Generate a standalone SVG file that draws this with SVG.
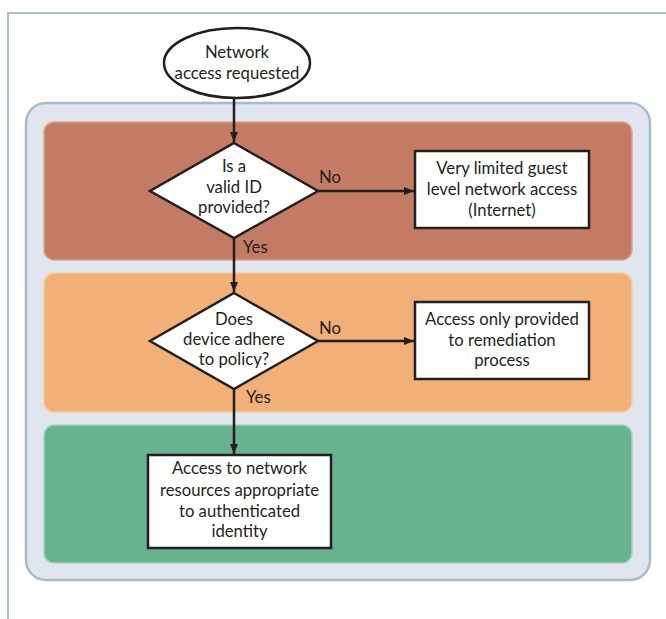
<svg xmlns="http://www.w3.org/2000/svg" width="666" height="619" viewBox="0 0 666 619">
<defs>
<marker id="ah" viewBox="0 0 10 10" refX="10" refY="5" markerWidth="4" markerHeight="4" orient="auto" markerUnits="strokeWidth">
<path d="M0,1 L10,5 L0,9 Z" fill="#231f20"/>
</marker>
</defs>
<style>
.t{font-family:Lato,"Open Sans","Liberation Sans",sans-serif;font-size:16.7px;fill:#231f20;text-anchor:middle}
.lbl{font-family:Lato,"Open Sans","Liberation Sans",sans-serif;font-size:16.7px;fill:#231f20}
.shape{fill:#ffffff;stroke:#231f20;stroke-width:2.5}
.conn{fill:none;stroke:#231f20;stroke-width:2.5}
.band{stroke-width:1.5}
</style>
<rect width="666" height="619" fill="#ffffff"/>
<g id="frame">
<path d="M8,619 L8,13 L666,13" fill="none" stroke="#a8bfcf" stroke-width="2"/>
</g>
<g id="panel">
<rect x="26" y="103" width="624" height="477" rx="20" fill="#e1e6ee" stroke="#a6bccd" stroke-width="2.5"/>
<rect class="band" x="44" y="122" width="588" height="138" rx="10" fill="#c47b64" stroke="#dda190"/>
<rect class="band" x="44" y="273" width="588" height="139" rx="10" fill="#f0b077" stroke="#f5cd9f"/>
<rect class="band" x="44" y="425" width="588" height="138" rx="10" fill="#68b291" stroke="#a6d3bd"/>
</g>
<g id="connectors">
<line class="conn" x1="234" y1="98" x2="234" y2="142" marker-end="url(#ah)"/>
<line class="conn" x1="318" y1="191" x2="414" y2="191" marker-end="url(#ah)"/>
<line class="conn" x1="234" y1="238" x2="234" y2="292" marker-end="url(#ah)"/>
<line class="conn" x1="318" y1="341" x2="414" y2="341" marker-end="url(#ah)"/>
<line class="conn" x1="234" y1="389" x2="234" y2="454" marker-end="url(#ah)"/>
<text class="lbl" x="319" y="183">No</text>
<text class="lbl" x="243" y="253">Yes</text>
<text class="lbl" x="319" y="334">No</text>
<text class="lbl" x="246" y="403">Yes</text>
</g>
<g id="start">
<ellipse class="shape" cx="237" cy="63" rx="73" ry="35"/>
<text class="t" x="237" y="58">Network</text>
<text class="t" x="237" y="79">access requested</text>
</g>
<g id="decision1">
<polygon class="shape" points="234,143 318,191 234,238 150,191"/>
<text class="t" x="234" y="172">Is a</text>
<text class="t" x="234" y="193">valid ID</text>
<text class="t" x="234" y="213">provided?</text>
</g>
<g id="guest">
<rect class="shape" x="415" y="151" width="174" height="77"/>
<text class="t" x="502" y="174">Very limited guest</text>
<text class="t" x="502" y="195">level network access</text>
<text class="t" x="502" y="216">(Internet)</text>
</g>
<g id="decision2">
<polygon class="shape" points="234,293 318,341 234,389 150,341"/>
<text class="t" x="234" y="325">Does</text>
<text class="t" x="234" y="345">device adhere</text>
<text class="t" x="234" y="365">to policy?</text>
</g>
<g id="remediation">
<rect class="shape" x="415" y="302" width="174" height="77"/>
<text class="t" x="502" y="325">Access only provided</text>
<text class="t" x="502" y="346">to remediation</text>
<text class="t" x="502" y="366">process</text>
</g>
<g id="access">
<rect class="shape" x="148" y="455" width="183" height="93"/>
<text class="t" x="239.5" y="474">Access to network</text>
<text class="t" x="239.5" y="496">resources appropriate</text>
<text class="t" x="239.5" y="517">to authenticated</text>
<text class="t" x="239.5" y="537">identity</text>
</g>
</svg>
